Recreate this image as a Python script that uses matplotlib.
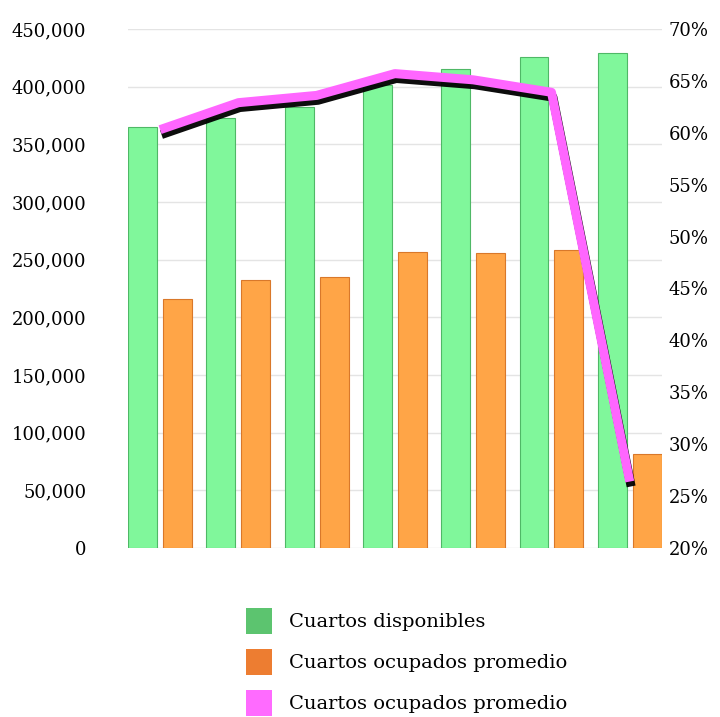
import numpy as np
import matplotlib.pyplot as plt
import matplotlib.patheffects as pe
from matplotlib.patches import Patch

# Data
categories = ['1', '2', '3', '4', '5', '6', '7']
disponibles = [365000, 372500, 382500, 401500, 415500, 425500, 429000]
ocupados = [216000, 232000, 235000, 256500, 255500, 258000, 81500]
ocupacion_pct = [60.3, 62.9, 63.6, 65.7, 65.1, 63.9, 26.4]

left_ticks = [0, 50000, 100000, 150000, 200000, 250000, 300000, 350000, 400000, 450000]
right_ticks = [20, 25, 30, 35, 40, 45, 50, 55, 60, 65, 70]

legend_labels = ['Cuartos disponibles', 'Cuartos ocupados promedio', 'Cuartos ocupados promedio']

plt.rcParams['font.family'] = ['DejaVu Serif']
plt.rcParams['font.size'] = 13

fig = plt.figure(figsize=(7.2, 7.17), dpi=100)
ax = fig.add_axes([0.178, 0.2357, 0.741, 0.7239])

x = np.arange(len(categories))
bar_w = 0.37
off = 0.223

ax.bar(x - off, disponibles, width=bar_w, color='#80f79b', edgecolor='#4fb866', linewidth=0.8, zorder=2)
ax.bar(x + off, ocupados, width=bar_w, color='#ffa547', edgecolor='#d9782a', linewidth=0.8, zorder=2)

ax.set_xlim(-off - bar_w / 2, len(categories) - 1 + off + bar_w / 2)
ax.set_ylim(0, 450000)
ax.set_yticks(left_ticks)
ax.set_yticklabels(['{:,}'.format(v) for v in left_ticks])
ax.set_xticks([])
ax.tick_params(axis='y', length=0, pad=30)
ax.grid(axis='y', color='#e4e4e4', linewidth=1, zorder=0)
for s in ax.spines.values():
    s.set_visible(False)

ax2 = ax.twinx()
ax2.set_ylim(20, 70)
ax2.set_yticks(right_ticks)
ax2.set_yticklabels(['{}%'.format(v) for v in right_ticks])
ax2.tick_params(axis='y', length=0, pad=5)
for s in ax2.spines.values():
    s.set_visible(False)

# magenta line with a dark drop shadow underneath
ax2.plot(x, ocupacion_pct, color='#ff66ff', linewidth=6.5, solid_capstyle='butt', zorder=3,
         path_effects=[pe.SimpleLineShadow(offset=(1, -3.5), shadow_color='black', alpha=0.95),
                       pe.Normal()])

handles = [Patch(facecolor='#5cc46f'), Patch(facecolor='#ed7d31'), Patch(facecolor='#ff6bff')]
fig.legend(handles, legend_labels, loc='upper left', bbox_to_anchor=(0.342, 0.152),
           frameon=False, fontsize=14, handlelength=1.3, handleheight=1.7,
           handletextpad=0.9, labelspacing=0.75, borderpad=0, borderaxespad=0)

fig.savefig('out.png', dpi=100)
